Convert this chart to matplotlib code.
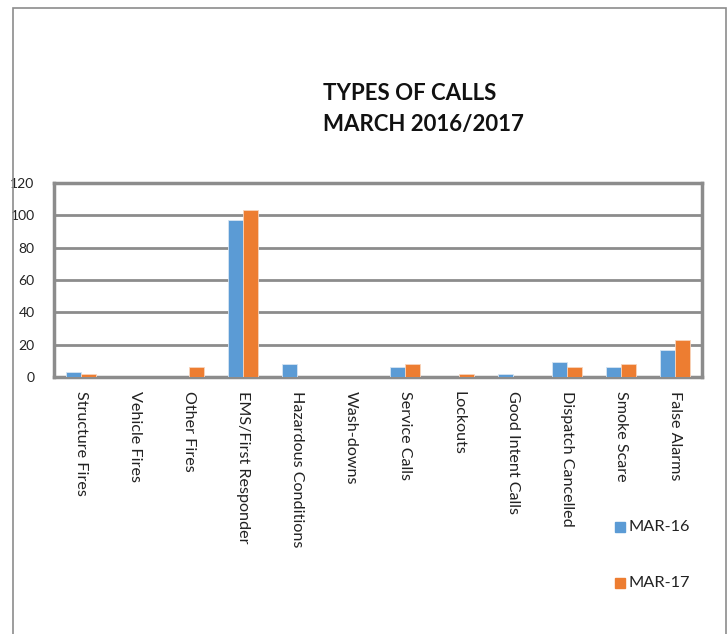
import matplotlib.pyplot as plt
import matplotlib.patches as mpatches
import numpy as np

categories = ["Structure Fires", "Vehicle Fires", "Other Fires", "EMS/First Responder",
              "Hazardous Conditions", "Wash-downs", "Service Calls", "Lockouts",
              "Good Intent Calls", "Dispatch Cancelled", "Smoke Scare", "False Alarms"]
mar16 = [3, 0, 0, 97, 8, 0, 6, 0, 2, 9, 6, 17]
mar17 = [2, 0, 6, 103, 0, 0, 8, 2, 0, 6, 8, 23]
yticks = [0, 20, 40, 60, 80, 100, 120]

blue = "#5B9BD5"
orange = "#ED7D31"
grid_col = "#8C8C8C"

plt.rcParams['font.family'] = ['Lato', 'DejaVu Sans']

fig = plt.figure(figsize=(7.28, 6.34), dpi=100)
ax = fig.add_axes([54/728, 1 - 377/634, 648/728, 194/634])

# outer frame of the chart area
frame = mpatches.Rectangle((13/728, -0.05), 713/728, 1.05 - 8/634, transform=fig.transFigure,
                           fill=False, edgecolor="#8C8C8C", linewidth=1.2, clip_on=False)
fig.patches.append(frame)

x = np.arange(len(categories))
w = 0.28
ax.bar(x - w/2, mar16, w, color=blue, edgecolor="#D6E4F2", linewidth=0.6, label="MAR-16", zorder=3)
ax.bar(x + w/2, mar17, w, color=orange, edgecolor="#F8D4BC", linewidth=0.6, label="MAR-17", zorder=3)

ax.set_xlim(-0.5, len(categories) - 0.5)
ax.set_ylim(0, 120)
ax.set_yticks(yticks)
ax.set_yticklabels([str(v) for v in yticks], fontsize=10, color="#222222")
ax.set_xticks(x)
ax.set_xticklabels(categories, rotation=-90, fontsize=11.6, color="#222222", va="top", ha="center")
ax.tick_params(axis="both", length=0)
ax.tick_params(axis="y", pad=14)
ax.tick_params(axis="x", pad=10)

ax.yaxis.grid(True, color=grid_col, linewidth=2, zorder=0)
for s in ax.spines.values():
    s.set_color(grid_col)
    s.set_linewidth(2.5)

fig.text(323/728, 1 - 93/634, "TYPES OF CALLS", fontsize=16, fontweight="bold",
         ha="left", va="center", color="#111111")
fig.text(323/728, 1 - 125/634, "MARCH 2016/2017", fontsize=16, fontweight="bold",
         ha="left", va="center", color="#111111")

# legend entries placed like the original
for yy, col, lab in [(527, blue, "MAR-16"), (583, orange, "MAR-17")]:
    fig.patches.append(mpatches.Rectangle((615/728, 1 - (yy + 5)/634), 10/728, 10/634,
                                          transform=fig.transFigure, color=col))
    fig.text(629/728, 1 - yy/634, lab, fontsize=11.8, ha="left", va="center", color="#222222")

fig.savefig("out.png", dpi=100)
